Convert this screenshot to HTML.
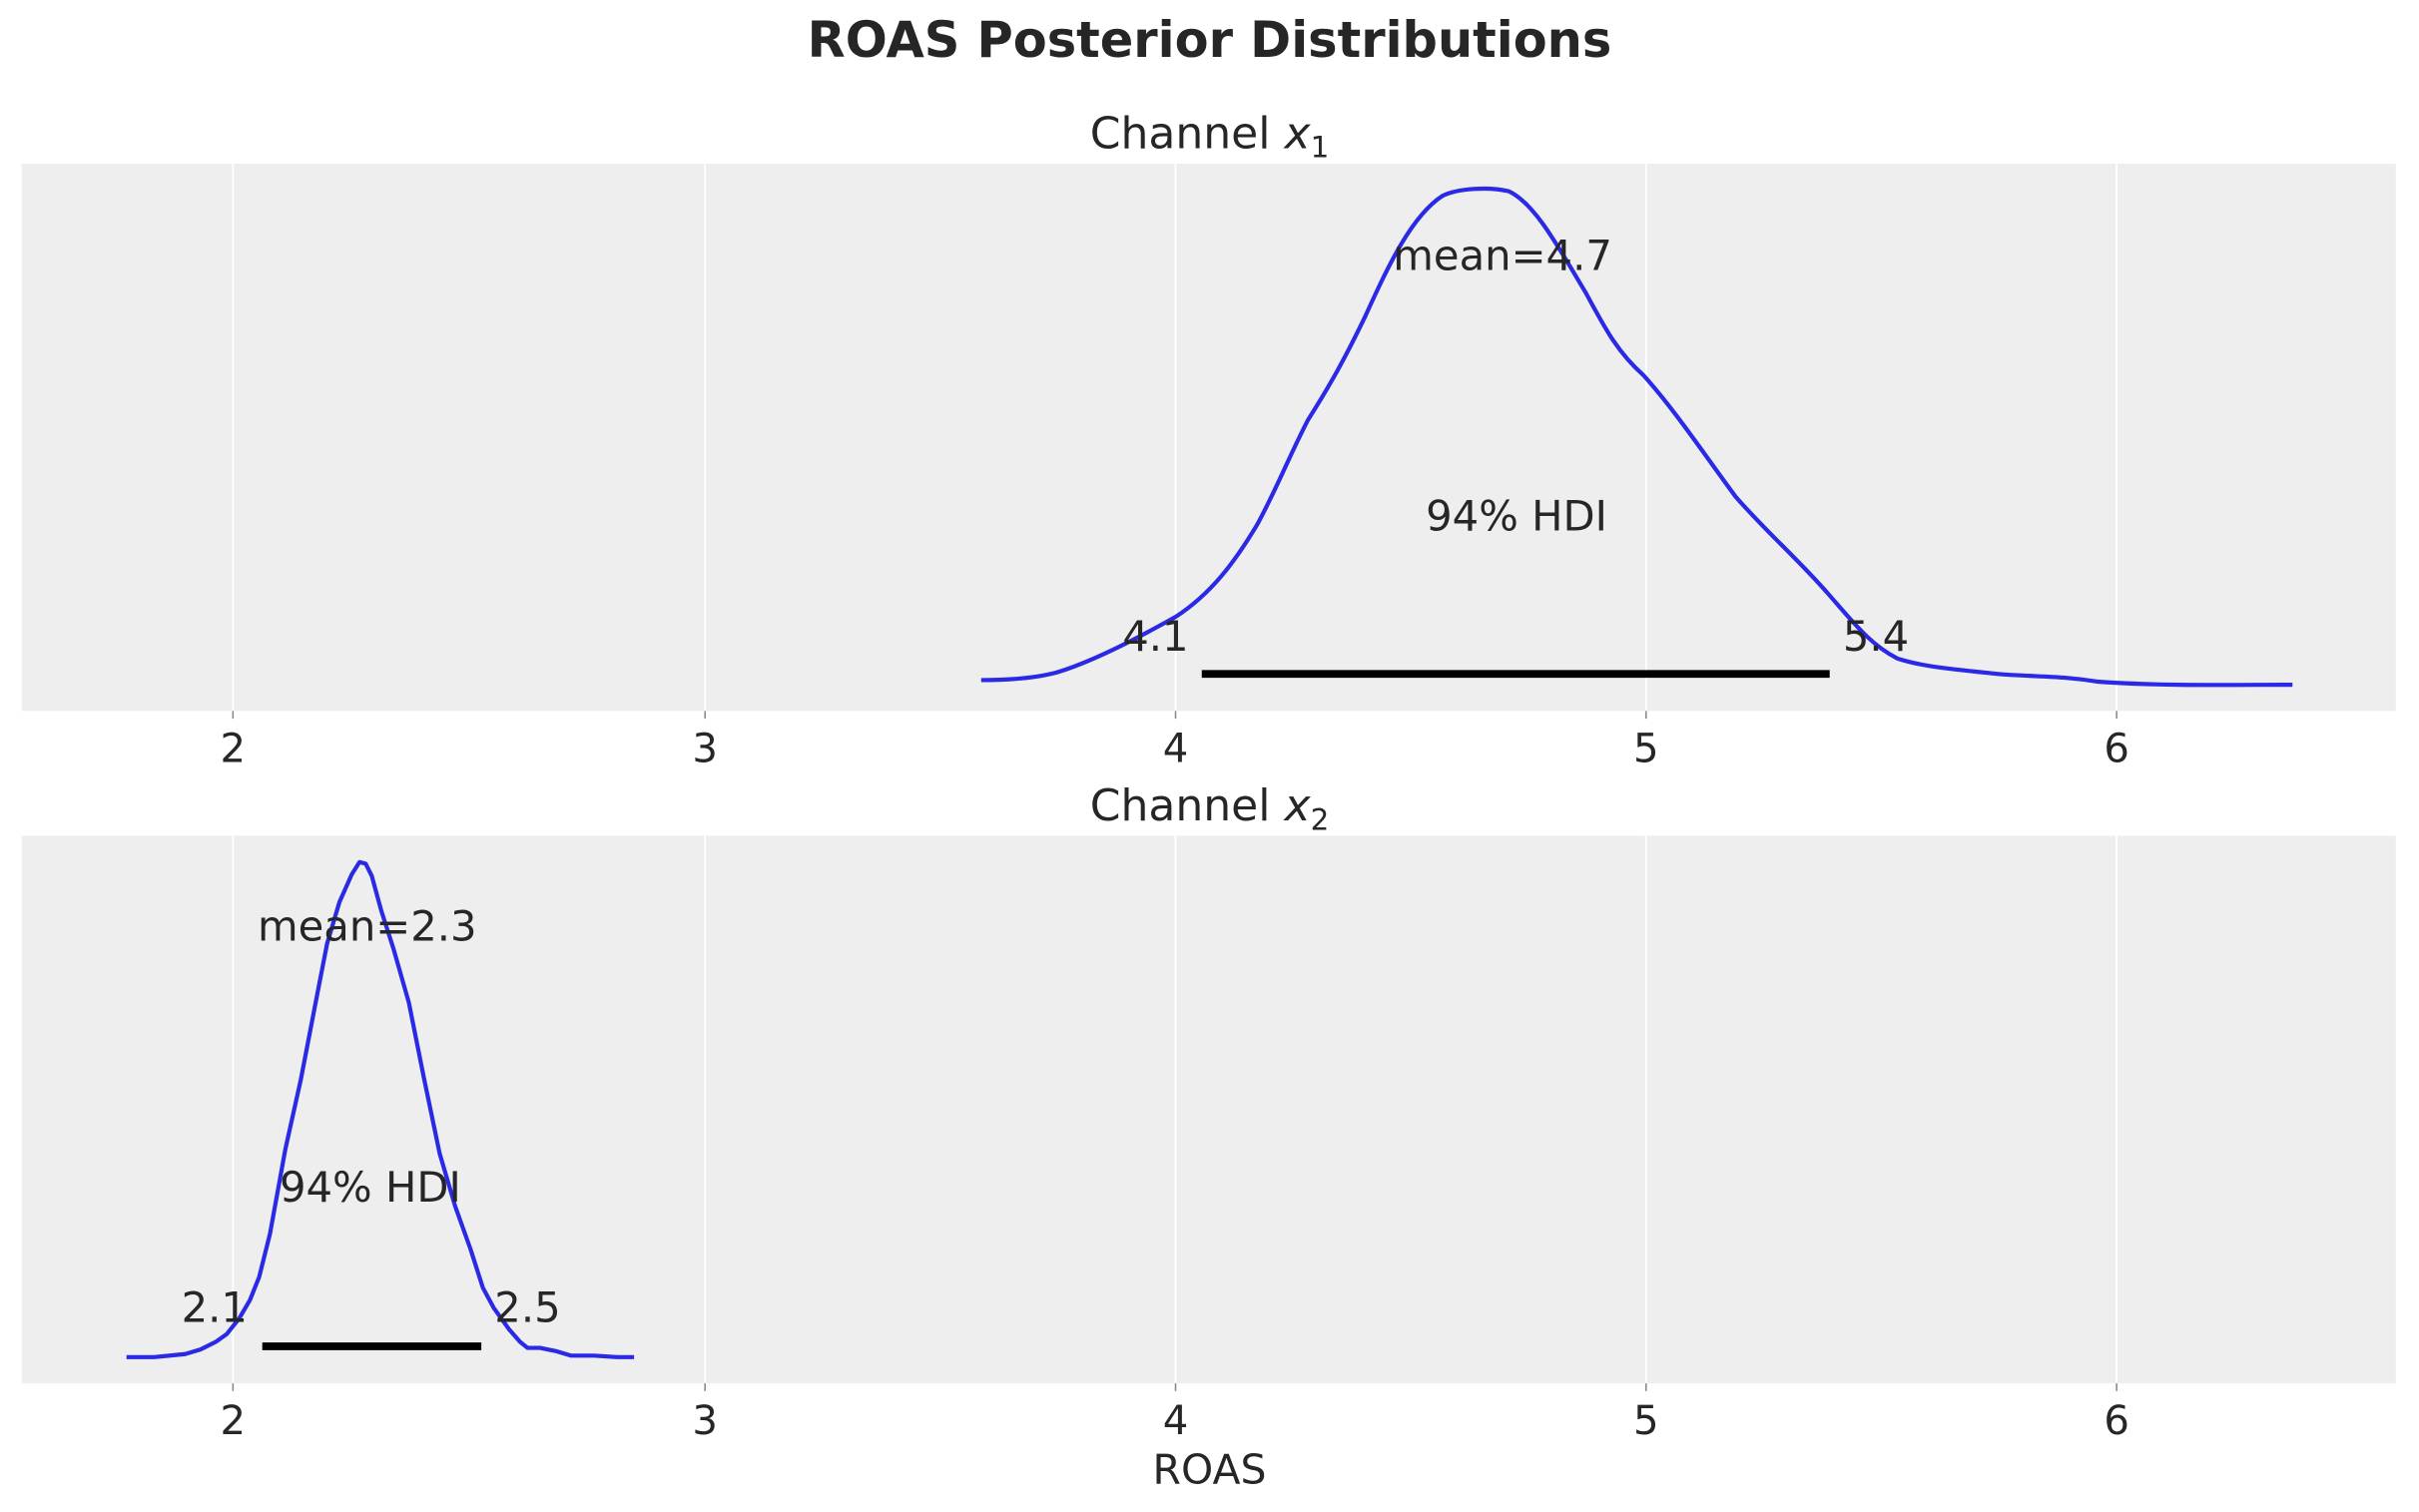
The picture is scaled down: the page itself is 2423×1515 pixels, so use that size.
<!DOCTYPE html>
<html><head><meta charset="utf-8"><style>html,body{margin:0;padding:0;background:#fff}svg{display:block}</style></head>
<body>
<svg width="2423" height="1515" viewBox="0 0 1568 980.4" xmlns="http://www.w3.org/2000/svg" font-family="'DejaVu Sans','Liberation Sans',sans-serif" fill="#262626">
<rect width="1568" height="980.4" fill="#fff"/>
<text x="784" y="37" text-anchor="middle" font-size="32" font-weight="bold">ROAS Posterior Distributions</text>
<!-- top panel -->
<rect x="14" y="106" width="1539" height="355" fill="#eeeeee"/>
<g stroke="#fff" stroke-width="1.2">
<line x1="151" y1="106" x2="151" y2="461"/><line x1="457" y1="106" x2="457" y2="461"/><line x1="762" y1="106" x2="762" y2="461"/><line x1="1067" y1="106" x2="1067" y2="461"/><line x1="1372" y1="106" x2="1372" y2="461"/>
</g>
<g stroke="#888" stroke-width="1"><line x1="151" y1="461" x2="151" y2="466"/><line x1="457" y1="461" x2="457" y2="466"/><line x1="762" y1="461" x2="762" y2="466"/><line x1="1067" y1="461" x2="1067" y2="466"/><line x1="1372" y1="461" x2="1372" y2="466"/></g>
<g font-size="26" text-anchor="middle"><text x="151" y="494">2</text><text x="457" y="494">3</text><text x="762" y="494">4</text><text x="1067" y="494">5</text><text x="1372" y="494">6</text></g>
<text x="784" y="96" text-anchor="middle" font-size="28.5">Channel <tspan font-style="italic">x</tspan><tspan font-size="19" dy="6">1</tspan></text>
<path fill="none" stroke="#2a2ae6" stroke-width="2.7" stroke-linejoin="round" d="M636,441 C650,441 670,440 685,436 C705,430 730,418 762,400 C785,385 800,365 815,340 C828,316 836,295 848,272 C862,250 872,232 885,205 C900,172 915,140 935,127 C945,122 965,121 978,124 C995,132 1010,160 1028,190 C1040,212 1048,228 1065,243 C1085,265 1105,295 1125,322 C1145,345 1165,362 1185,385 C1200,402 1212,418 1230,427 C1245,432 1265,434 1295,437 C1320,439 1335,438 1360,442 C1400,445 1450,444 1486,444"/>
<line x1="779" y1="437" x2="1186" y2="437" stroke="#000" stroke-width="5"/>
<g font-size="27" text-anchor="middle"><text x="749" y="422">4.1</text><text x="1216" y="422">5.4</text><text x="974" y="175">mean=4.7</text><text x="983" y="344">94% HDI</text></g>
<!-- bottom panel -->
<rect x="14" y="542" width="1539" height="355" fill="#eeeeee"/>
<g stroke="#fff" stroke-width="1.2">
<line x1="151" y1="542" x2="151" y2="897"/><line x1="457" y1="542" x2="457" y2="897"/><line x1="762" y1="542" x2="762" y2="897"/><line x1="1067" y1="542" x2="1067" y2="897"/><line x1="1372" y1="542" x2="1372" y2="897"/>
</g>
<g stroke="#888" stroke-width="1"><line x1="151" y1="897" x2="151" y2="902"/><line x1="457" y1="897" x2="457" y2="902"/><line x1="762" y1="897" x2="762" y2="902"/><line x1="1067" y1="897" x2="1067" y2="902"/><line x1="1372" y1="897" x2="1372" y2="902"/></g>
<g font-size="26" text-anchor="middle"><text x="151" y="930">2</text><text x="457" y="930">3</text><text x="762" y="930">4</text><text x="1067" y="930">5</text><text x="1372" y="930">6</text></g>
<text x="784" y="532" text-anchor="middle" font-size="28.5">Channel <tspan font-style="italic">x</tspan><tspan font-size="19" dy="6">2</tspan></text>
<path fill="none" stroke="#2a2ae6" stroke-width="2.7" stroke-linejoin="round" d="M82,880 L100,880 L120,878 L130,875 L140,870 L147,865 L155,855 L162,843 L168,828 L175,800 L185,745 L195,700 L205,648 L212,612 L220,585 L228,567 L233,559 L237,560 L241,568 L247,590 L255,615 L265,650 L275,700 L285,748 L295,782 L305,810 L313,835 L320,848 L330,862 L337,870 L342,874 L350,874 L360,876 L370,879 L385,879 L400,880 L411,880"/>
<line x1="170" y1="873" x2="312" y2="873" stroke="#000" stroke-width="5"/>
<g font-size="27" text-anchor="middle"><text x="139" y="857">2.1</text><text x="342" y="857">2.5</text><text x="238" y="610">mean=2.3</text><text x="240" y="779">94% HDI</text></g>
<text x="784" y="962" text-anchor="middle" font-size="26.5">ROAS</text>
</svg>
</body></html>
